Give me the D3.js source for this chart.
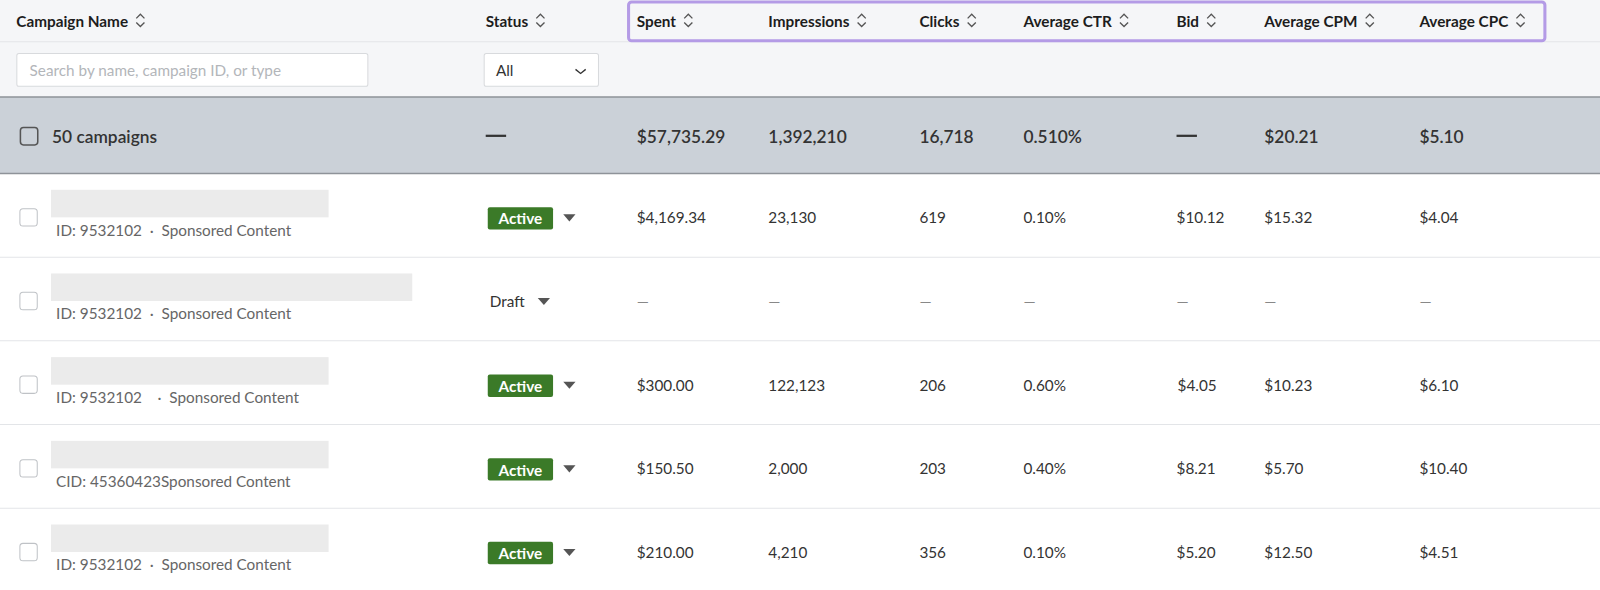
<!DOCTYPE html>
<html>
<head>
<meta charset="utf-8">
<script src="https://cdn.jsdelivr.net/npm/d3@7"></script>
<style>
	body { margin: 0; background: #fff; }
	text { font-family: Lato, "Noto Sans", sans-serif; }
</style>
</head>
<body>
<svg id="chart" width="1600" height="590"></svg>
<script>
const columns = ['Campaign Name', 'Status', 'Spent', 'Impressions', 'Clicks', 'Average CTR', 'Bid', 'Average CPM', 'Average CPC'];
const column_x = [16, 476, 624, 753, 901, 1003, 1153, 1239, 1391];
const summary = ['50 campaigns', '—', '$57,735.29', '1,392,210', '16,718', '0.510%', '—', '$20.21', '$5.10'];

const campaign_ids = ['ID: 9532102  ·  Sponsored Content', 'ID: 9532102  ·  Sponsored Content',
	'ID: 9532102    ·  Sponsored Content', 'CID: 45360423Sponsored Content', 'ID: 9532102  ·  Sponsored Content'];
const name_widths = [272, 354, 272, 272, 272];
const statuses = ['Active', 'Draft', 'Active', 'Active', 'Active'];
const spent = ['$4,169.34', '—', '$300.00', '$150.50', '$210.00'];
const impressions = ['23,130', '—', '122,123', '2,000', '4,210'];
const clicks = ['619', '—', '206', '203', '356'];
const ctr = ['0.10%', '—', '0.60%', '0.40%', '0.10%'];
const bid = ['$10.12', '—', '$4.05', '$8.21', '$5.20'];
const cpm = ['$15.32', '—', '$10.23', '$5.70', '$12.50'];
const cpc = ['$4.04', '—', '$6.10', '$10.40', '$4.51'];
const bid_offset = [0, 0, 1, 0, 0];

const W = 1568;
const root = d3.select('#chart').append('g').attr('transform', `scale(${1600 / W})`);

const y = d3.scaleBand().domain(d3.range(5)).range([170, 580]);

// header & filter band
root.append('rect').attr('x', 0).attr('y', 0).attr('width', W).attr('height', 95).attr('fill', '#f5f6f8');
root.append('line').attr('x1', 0).attr('x2', W).attr('y1', 41).attr('y2', 41).attr('stroke', '#e3e5e8');

// summary band
root.append('rect').attr('x', 0).attr('y', 95).attr('width', W).attr('height', 75).attr('fill', '#cbd1d8');
root.append('line').attr('x1', 0).attr('x2', W).attr('y1', 95).attr('y2', 95).attr('stroke', '#8e9399').attr('stroke-width', 1.5);
root.append('line').attr('x1', 0).attr('x2', W).attr('y1', 170).attr('y2', 170).attr('stroke', '#8e9399').attr('stroke-width', 1.5);

function sortIcon(g, x, cy) {
	g.append('path').attr('d', `M${x},${cy - 2} l4,-4 l4,4`).attr('fill', 'none').attr('stroke', '#555').attr('stroke-width', 1.3);
	g.append('path').attr('d', `M${x},${cy + 2} l4,4 l4,-4`).attr('fill', 'none').attr('stroke', '#555').attr('stroke-width', 1.3);
}

const head = root.append('g');
columns.forEach((c, i) => {
	const t = head.append('text').attr('x', column_x[i]).attr('y', 26)
		.attr('font-size', 15).attr('font-weight', 700).attr('fill', '#1d1d1d').text(c);
	const w = t.node().getComputedTextLength();
	sortIcon(head, column_x[i] + w + 8, 20);
});
head.append('rect').attr('x', 616).attr('y', 2).attr('width', 898).attr('height', 38).attr('rx', 3)
	.attr('fill', 'none').attr('stroke', '#b49be6').attr('stroke-width', 3);

// filters
root.append('rect').attr('x', 16.5).attr('y', 52.5).attr('width', 344).attr('height', 32).attr('rx', 2)
	.attr('fill', '#fff').attr('stroke', '#d8dadd');
root.append('text').attr('x', 29).attr('y', 74).attr('font-size', 15).attr('fill', '#b3b6ba')
	.text('Search by name, campaign ID, or type');
root.append('rect').attr('x', 474.5).attr('y', 52.5).attr('width', 112).attr('height', 32).attr('rx', 2)
	.attr('fill', '#fff').attr('stroke', '#d8dadd');
root.append('text').attr('x', 486).attr('y', 74).attr('font-size', 15).attr('fill', '#333').text('All');
root.append('path').attr('d', 'M564,68 l5,4 l5,-4').attr('fill', 'none').attr('stroke', '#333').attr('stroke-width', 1.3);

// summary row
root.append('rect').attr('x', 20).attr('y', 125).attr('width', 17).attr('height', 17).attr('rx', 3)
	.attr('fill', 'none').attr('stroke', '#555').attr('stroke-width', 1.5);
summary.forEach((s, i) => {
	const x = i === 0 ? 51 : column_x[i];
	if (s === '—') {
		root.append('rect').attr('x', x).attr('y', 132).attr('width', 20).attr('height', 2.2).attr('fill', '#333');
		return;
	}
	root.append('text').attr('x', x).attr('y', 140).attr('font-size', 17).attr('font-weight', 600)
		.attr('fill', '#333').text(s);
});

// campaign rows
const rows = root.selectAll('g.row').data(d3.range(5)).join('g').attr('class', 'row')
	.attr('transform', d => `translate(0,${y(d)})`);

rows.append('line').attr('x1', 0).attr('x2', W).attr('y1', y.bandwidth()).attr('y2', y.bandwidth())
	.attr('stroke', '#e3e5e8');
rows.append('rect').attr('x', 19.5).attr('y', 34.5).attr('width', 17).attr('height', 17).attr('rx', 3)
	.attr('fill', '#fff').attr('stroke', '#bfc2c6');
rows.append('rect').attr('x', 50).attr('y', 16).attr('width', d => name_widths[d]).attr('height', 27)
	.attr('fill', '#ebebeb');
rows.append('text').attr('x', 55).attr('y', 61).attr('font-size', 15).attr('fill', '#666')
	.attr('xml:space', 'preserve').style('white-space', 'pre').text(d => campaign_ids[d]);

rows.each(function (d) {
	const g = d3.select(this);
	if (statuses[d] === 'Active') {
		g.append('rect').attr('x', 478).attr('y', 33).attr('width', 64).attr('height', 22).attr('rx', 2).attr('fill', '#3b7a28');
		g.append('text').attr('x', 510).attr('y', 50).attr('text-anchor', 'middle').attr('font-size', 15)
			.attr('font-weight', 700).attr('fill', '#fff').text('Active');
		g.append('path').attr('d', 'M552,40 h12 l-6,7 z').attr('fill', '#555');
	}
	else {
		g.append('text').attr('x', 480).attr('y', 49).attr('font-size', 15).attr('fill', '#333').text(statuses[d]);
		g.append('path').attr('d', 'M527,40 h12 l-6,7 z').attr('fill', '#555');
	}
});

const value_cols = [spent, impressions, clicks, ctr, bid, cpm, cpc];
value_cols.forEach((arr, j) => {
	rows.append('text').attr('x', d => column_x[j + 2] + (j === 4 ? bid_offset[d] : 0)).attr('y', 49)
		.attr('font-size', 15).attr('fill', d => arr[d] === '—' ? '#888' : '#333').text(d => arr[d]);
});
</script>
</body>
</html>
